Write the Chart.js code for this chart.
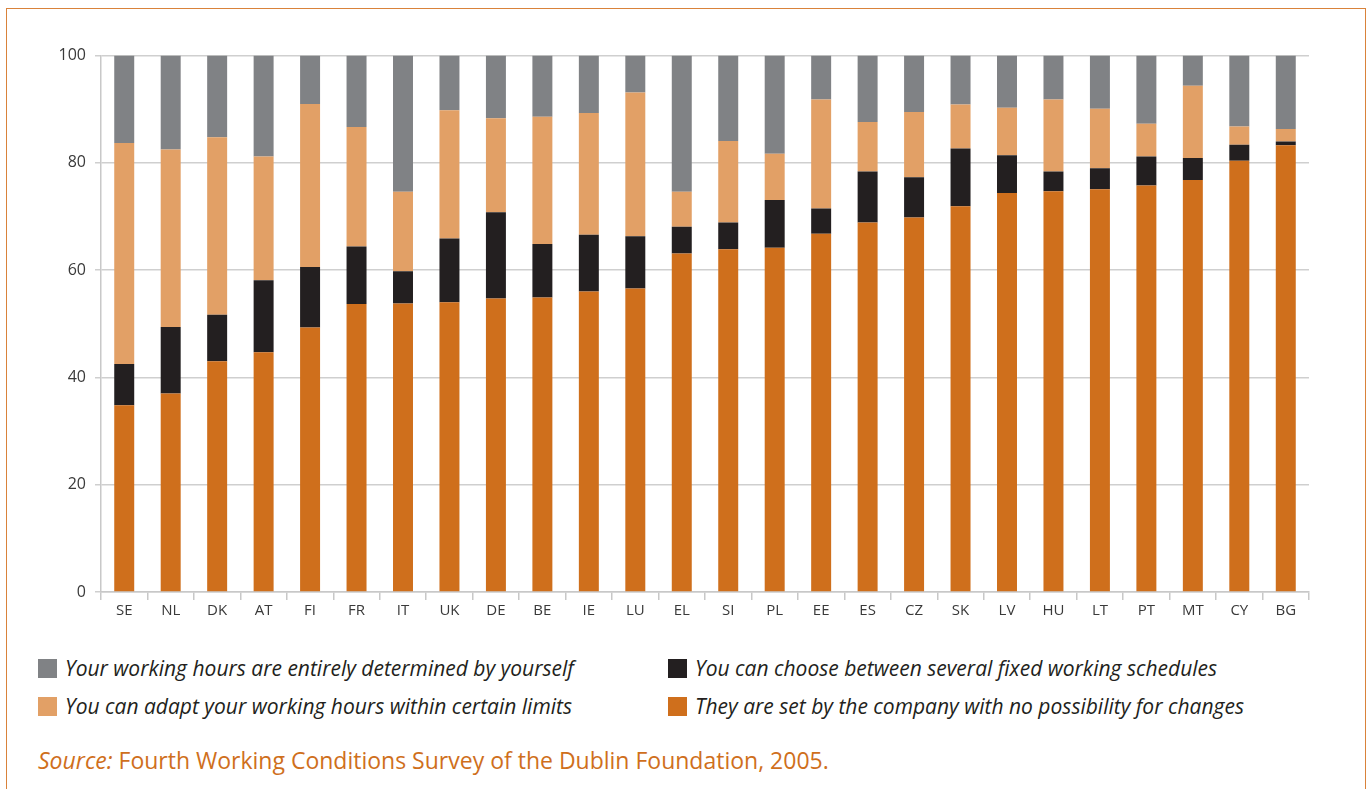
<!DOCTYPE html>
<html>
<head>
<meta charset="utf-8">
<script src="https://cdn.jsdelivr.net/npm/chart.js@4/dist/chart.umd.min.js"></script>
<style>
  html, body { margin: 0; padding: 0; background: #fff; }
  body { width: 1367px; height: 789px; position: relative; overflow: hidden; font-family: "Open Sans", sans-serif; }
  .frame { position: absolute; left: 6px; top: 8px; width: 1358px; height: 800px;
           border-left: 1.5px solid #d9823a; border-top: 1.5px solid #d9823a; border-right: 1.5px solid #d9823a; }
  .wrap { position: absolute; left: 40px; top: 37px; width: 1281px; height: 590px; }
  .legend { position: absolute; left: 38px; top: 654px; width: 1300px; }
  .item { position: absolute; display: flex; align-items: center; font-style: italic; font-size: 21px; color: #231f20; white-space: nowrap; }
  .sw { width: 19px; height: 19px; margin-right: 8px; }
  .source { position: absolute; left: 38px; top: 744px; font-size: 23px; color: #cf6f1c; white-space: nowrap; }
</style>
</head>
<body>
<div class="frame"></div>
<div class="wrap"><canvas id="chart"></canvas></div>
<div class="legend" id="legend"></div>
<div class="source"><i>Source:</i> Fourth Working Conditions Survey of the Dublin Foundation, 2005.</div>
<script>
const countries = ["SE", "NL", "DK", "AT", "FI", "FR", "IT", "UK", "DE", "BE", "IE", "LU", "EL", "SI", "PL", "EE", "ES", "CZ", "SK", "LV", "HU", "LT", "PT", "MT", "CY", "BG"];

// percentages, stacked from the bottom up
const setByCompany = [34.8, 37.0, 43.0, 44.7, 49.3, 53.7, 53.8, 54.0, 54.7, 54.9, 56.0, 56.6, 63.1, 63.9, 64.2, 66.8, 68.9, 69.8, 71.9, 74.4, 74.7, 75.1, 75.8, 76.8, 80.4, 83.3];
const fixedSchedules = [7.7, 12.4, 8.7, 13.4, 11.3, 10.7, 6.0, 11.9, 16.1, 10.0, 10.6, 9.7, 5.0, 5.0, 8.9, 4.7, 9.5, 7.5, 10.8, 7.0, 3.7, 3.9, 5.4, 4.1, 3.0, 0.7];
const adaptLimits = [41.2, 33.1, 33.1, 23.1, 30.4, 22.3, 14.8, 23.9, 17.5, 23.7, 22.7, 26.8, 6.5, 15.2, 8.6, 20.3, 9.2, 12.2, 8.2, 8.9, 13.4, 11.1, 6.1, 13.5, 3.4, 2.3];
const byYourself = [16.3, 17.5, 15.2, 18.8, 9.0, 13.3, 25.4, 10.2, 11.7, 11.4, 10.7, 6.9, 25.4, 15.9, 18.3, 8.2, 12.4, 10.5, 9.1, 9.7, 8.2, 9.9, 12.7, 5.6, 13.2, 13.7];

const yTicks = [0, 20, 40, 60, 80, 100];

const series = [
  { label: "They are set by the company with no possibility for changes", data: setByCompany, color: "#cf6f1c" },
  { label: "You can choose between several fixed working schedules", data: fixedSchedules, color: "#231f20" },
  { label: "You can adapt your working hours within certain limits", data: adaptLimits, color: "#e2a066" },
  { label: "Your working hours are entirely determined by yourself", data: byYourself, color: "#808285" }
];

const ctx = document.getElementById("chart").getContext("2d");
new Chart(ctx, {
  type: "bar",
  data: {
    labels: countries,
    datasets: series.map(s => ({
      label: s.label,
      data: s.data,
      backgroundColor: s.color,
      borderWidth: 0,
      categoryPercentage: 1,
      barPercentage: 0.43
    }))
  },
  options: {
    responsive: true,
    maintainAspectRatio: false,
    animation: false,
    layout: { padding: { top: 7, right: 12, left: 0, bottom: 0 } },
    plugins: { legend: { display: false }, tooltip: { enabled: false } },
    scales: {
      x: {
        stacked: true,
        afterFit: s => { s.height = 35; },
        grid: { offset: true, drawOnChartArea: false, color: "#c8c8c8", tickLength: 8, lineWidth: 1.5 },
        border: { color: "#c8c8c8", width: 1.5 },
        ticks: { color: "#3a3a3a", font: { family: "Open Sans", size: 15 }, padding: 2 }
      },
      y: {
        stacked: true,
        min: 0,
        max: 100,
        afterFit: s => { s.width = 61; },
        afterBuildTicks: s => { s.ticks = yTicks.map(v => ({ value: v })); },
        grid: { color: "#cfcfcf", lineWidth: 1.5, tickLength: 6 },
        border: { color: "#c8c8c8", width: 1.5 },
        ticks: { color: "#3a3a3a", font: { family: "Open Sans", size: 16 }, padding: 9 }
      }
    }
  }
});

// legend laid out as in the original: two rows, two columns
const legendOrder = [
  { s: series[3], left: 0, top: 0 },
  { s: series[1], left: 630, top: 0 },
  { s: series[2], left: 0, top: 38 },
  { s: series[0], left: 630, top: 38 }
];
const legend = document.getElementById("legend");
legendOrder.forEach(o => {
  const el = document.createElement("div");
  el.className = "item";
  el.style.left = o.left + "px";
  el.style.top = o.top + "px";
  el.innerHTML = '<span class="sw" style="background:' + o.s.color + '"></span><span>' + o.s.label + '</span>';
  legend.appendChild(el);
});
</script>
</body>
</html>
